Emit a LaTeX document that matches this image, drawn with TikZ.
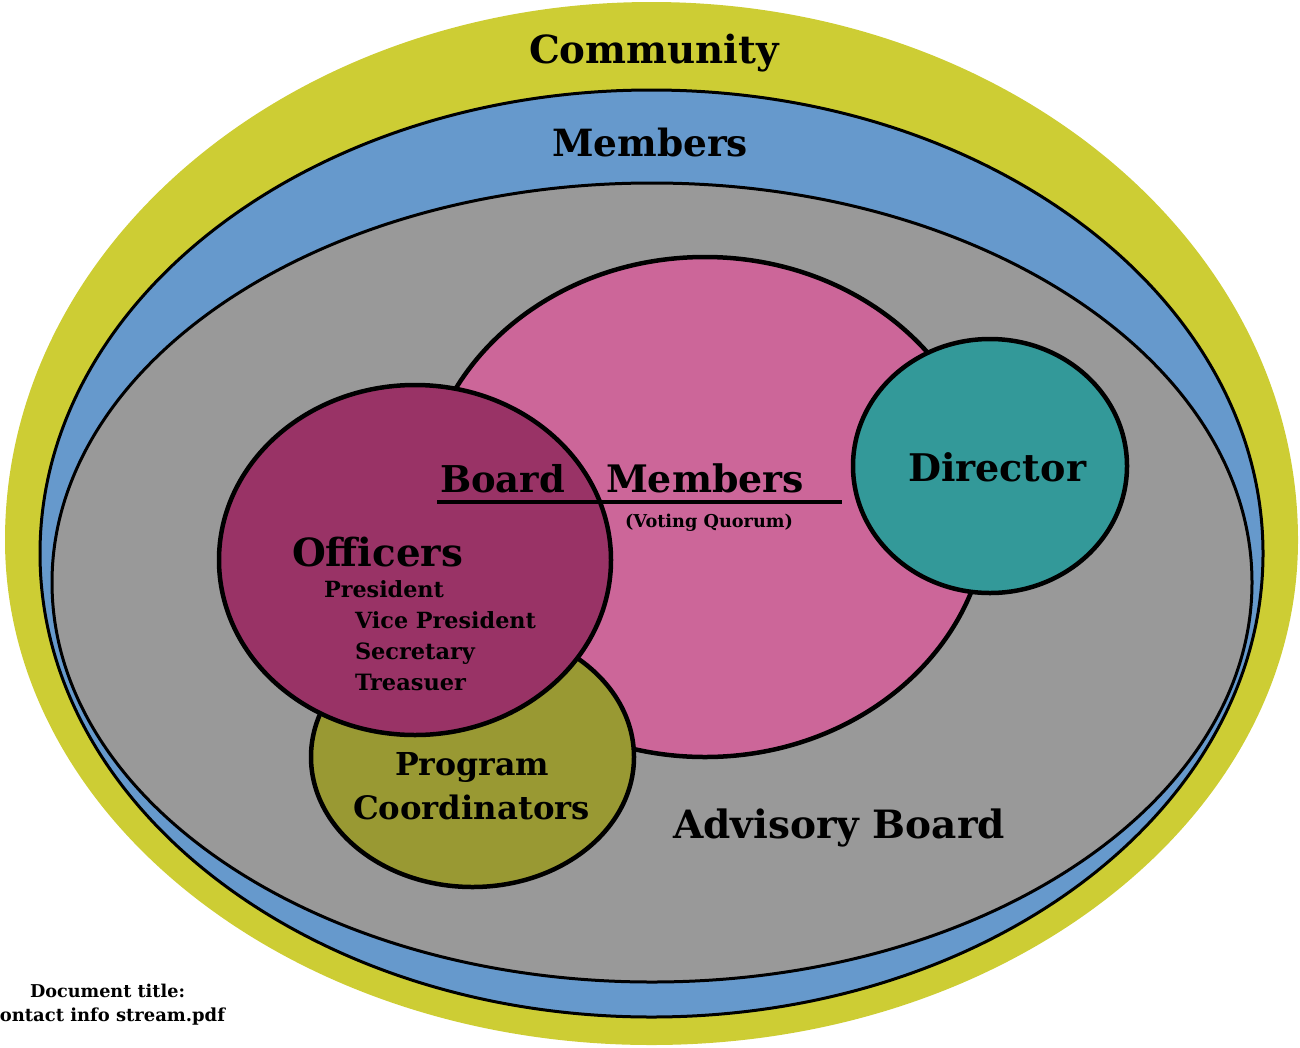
\documentclass[tikz,border=0pt]{standalone}
\usepackage{fontspec}
\setmainfont{DejaVu Serif}
\usepackage{graphicx}
\usetikzlibrary{shapes.geometric}
\definecolor{commyel}{RGB}{205,205,52}
\definecolor{membblue}{RGB}{102,153,204}
\definecolor{advgrey}{RGB}{153,153,153}
\definecolor{boardpink}{RGB}{204,102,153}
\definecolor{offpurple}{RGB}{153,51,102}
\definecolor{dirteal}{RGB}{51,153,153}
\definecolor{progolive}{RGB}{153,153,51}
\newcommand\fitw[2]{\resizebox{#1pt}{!}{\bfseries #2}}
\begin{document}
\begin{tikzpicture}[x=1pt,y=-1pt,
  blob/.style={ellipse,inner sep=0pt,outer sep=0pt},
  ring/.style={blob,draw=black,line width=3pt},
  bubble/.style={blob,draw=black,line width=4.5pt},
  lbl/.style={inner sep=0pt,outer sep=0pt,anchor=base west}]
\useasboundingbox (0,0) rectangle (1300,1047);
% outer region: Community (egg shaped, no outline)
\coordinate (commW) at (5,540);
\fill[commyel] (commW) arc[start angle=180,end angle=360,x radius=646.5,y radius=538]
  arc[start angle=0,end angle=180,x radius=646.5,y radius=505] -- cycle;
\node[blob,fill=membblue,draw=black,line width=3pt,minimum width=1223pt,minimum height=927pt] (members) at (651.5,553.5) {};
\node[ring,fill=advgrey,minimum width=1200pt,minimum height=799pt] (advisory) at (652,582.5) {};
% inner bubbles
\node[bubble,fill=boardpink,minimum width=566pt,minimum height=500pt] (board) at (705,507) {};
\node[bubble,fill=dirteal,minimum width=274pt,minimum height=254pt] (director) at (990,466) {};
\node[bubble,fill=progolive,minimum width=323pt,minimum height=260pt] (program) at (472.5,757) {};
\node[bubble,fill=offpurple,minimum width=392pt,minimum height=350pt] (officers) at (415,560) {};
% underline of Board Members
\coordinate (ulA) at (437,502);
\coordinate (ulB) at (842,502);
\draw[line width=4pt] (ulA) -- (ulB);
% texts
\node[lbl] (tcomm) at (529,63) {\fitw{250}{Community}};
\node[lbl] (tmemb) at (552,156) {\fitw{196}{Members}};
\node[lbl] (tboard) at (440,492) {\fitw{125}{Board}};
\node[lbl] (tbmemb) at (606,492) {\fitw{198}{Members}};
\node[lbl] (tvote) at (625,527) {\fitw{168}{(Voting Quorum)}};
\node[lbl] (toff) at (292,566) {\fitw{171}{Officers}};
\node[lbl] (tpres) at (324,597) {\fitw{120}{President}};
\node[lbl] (tvice) at (355,628) {\fitw{181}{Vice President}};
\node[lbl] (tsec) at (355,659) {\fitw{120}{Secretary}};
\node[lbl] (ttrea) at (355,690) {\fitw{111}{Treasuer}};
\node[lbl] (tdir) at (908,481) {\fitw{178}{Director}};
\node[lbl] (tprog) at (395,775) {\fitw{154}{Program}};
\node[lbl] (tcoord) at (353,819) {\fitw{237}{Coordinators}};
\node[lbl] (tadv) at (673,838) {\fitw{332}{Advisory Board}};
\node[lbl] (tdoc) at (30,997) {\fitw{155}{Document title:}};
\node[inner sep=0pt,outer sep=0pt,anchor=base east] (tfile) at (225,1021) {\fitw{236}{contact info stream.pdf}};
\end{tikzpicture}
\end{document}
